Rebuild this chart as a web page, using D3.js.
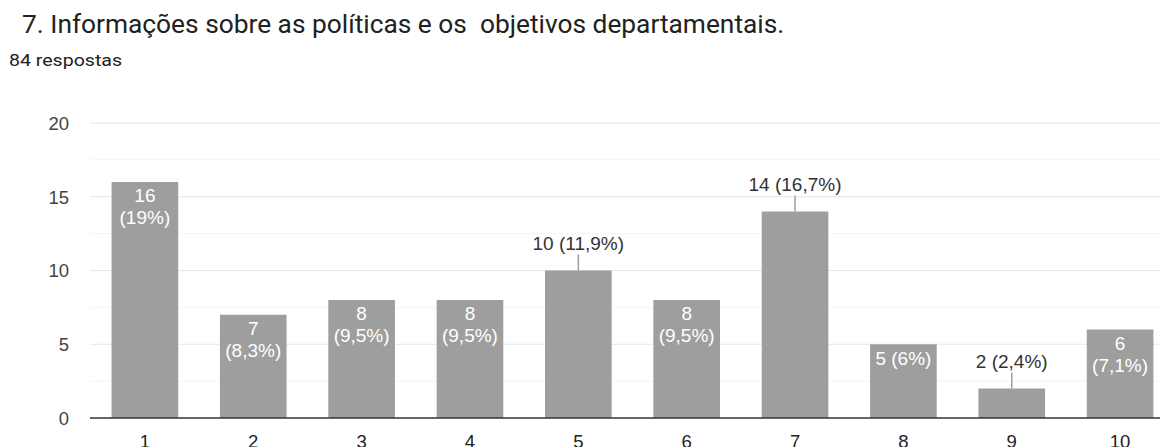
<!DOCTYPE html>
<html>
<head>
<meta charset="utf-8">
<script src="https://cdn.jsdelivr.net/npm/d3@7"></script>
<style>
  body { margin: 0; background: #fff; font-family: Roboto, "Noto Sans", sans-serif; }
  svg { display: block; }
</style>
</head>
<body>
<div id="chart"></div>
<script>
var categories = ["1", "2", "3", "4", "5", "6", "7", "8", "9", "10"];
var counts = [16, 7, 8, 8, 10, 8, 14, 5, 2, 6];
var percents = ["19%", "8,3%", "9,5%", "9,5%", "11,9%", "9,5%", "16,7%", "6%", "2,4%", "7,1%"];
var yTicks = [0, 5, 10, 15, 20];
var minorTicks = [2.5, 7.5, 12.5, 17.5];

// how google forms places each label: two lines inside, one line inside, or above with a leader
var placement = ["in2", "in2", "in2", "in2", "out", "in2", "out", "in1", "out", "in2"];

var w = 1160;
var h = 447;
var labelFont = "'Liberation Sans', Arial, sans-serif";

var svg = d3.select("#chart").append("svg")
    .attr("width", w)
    .attr("height", h);

svg.append("text")
    .attr("x", 22).attr("y", 33)
    .attr("font-size", 26.3)
    .attr("fill", "#212121")
    .attr("xml:space", "preserve")
    .text("7. Informações sobre as políticas e os  objetivos departamentais.");

svg.append("text")
    .attr("x", 9).attr("y", 66)
    .attr("font-size", 16)
    .attr("fill", "#212121")
    .attr("textLength", 113)
    .attr("lengthAdjust", "spacingAndGlyphs")
    .text("84 respostas");

var x = d3.scaleBand()
    .domain(categories)
    .range([91, 1174])
    .paddingInner(0.385)
    .paddingOuter(0.19);

var y = d3.scaleLinear()
    .domain([0, 20])
    .range([418, 123]);

// grid
svg.selectAll("line.minor")
    .data(minorTicks)
    .enter()
    .append("line")
    .attr("x1", 90).attr("x2", w)
    .attr("y1", function (d) { return y(d); })
    .attr("y2", function (d) { return y(d); })
    .attr("stroke", "#f4f4f4");

svg.selectAll("line.major")
    .data(yTicks.slice(1))
    .enter()
    .append("line")
    .attr("x1", 90).attr("x2", w)
    .attr("y1", function (d) { return y(d); })
    .attr("y2", function (d) { return y(d); })
    .attr("stroke", "#e6e6e6");

var yAxis = svg.append("g")
    .attr("transform", "translate(90,0)")
    .call(d3.axisLeft(y).tickValues(yTicks).tickSize(0).tickPadding(21));
yAxis.select(".domain").remove();
yAxis.selectAll("text")
    .attr("font-family", labelFont)
    .attr("font-size", 18.5)
    .attr("fill", "#444")
    .attr("dy", "0.35em");

svg.selectAll("rect.bar")
    .data(counts)
    .enter()
    .append("rect")
    .attr("x", function (d, i) { return x(categories[i]); })
    .attr("y", function (d) { return y(d); })
    .attr("width", x.bandwidth())
    .attr("height", function (d) { return y(0) - y(d); })
    .attr("fill", "#9e9e9e");

var xAxis = svg.append("g")
    .attr("transform", "translate(0,418)")
    .call(d3.axisBottom(x).tickSize(0).tickPadding(17));
xAxis.select(".domain").remove();
xAxis.selectAll("text")
    .attr("font-family", labelFont)
    .attr("font-size", 18.5)
    .attr("fill", "#222");

svg.append("line")
    .attr("x1", 90).attr("x2", w)
    .attr("y1", y(0)).attr("y2", y(0))
    .attr("stroke", "#333")
    .attr("stroke-width", 1.5);

// value labels
counts.forEach(function (d, i) {
    var cx = x(categories[i]) + x.bandwidth() / 2;
    var top = y(d);
    var mode = placement[i];
    var g = svg.append("g")
        .attr("font-family", labelFont)
        .attr("font-size", 19)
        .attr("text-anchor", "middle");
    if (mode === "in2") {
        g.append("text").attr("x", cx).attr("y", top + 20).attr("fill", "#fff").text(d);
        g.append("text").attr("x", cx).attr("y", top + 42).attr("fill", "#fff").text("(" + percents[i] + ")");
    } else if (mode === "in1") {
        g.append("text").attr("x", cx).attr("y", top + 21).attr("fill", "#fff")
            .text(d + " (" + percents[i] + ")");
    } else {
        g.append("line")
            .attr("x1", cx).attr("x2", cx)
            .attr("y1", top - 16).attr("y2", top)
            .attr("stroke", "#9e9e9e").attr("stroke-width", 1.5);
        g.append("text").attr("x", cx).attr("y", top - 20.5).attr("fill", "#333")
            .text(d + " (" + percents[i] + ")");
    }
});
</script>
</body>
</html>
